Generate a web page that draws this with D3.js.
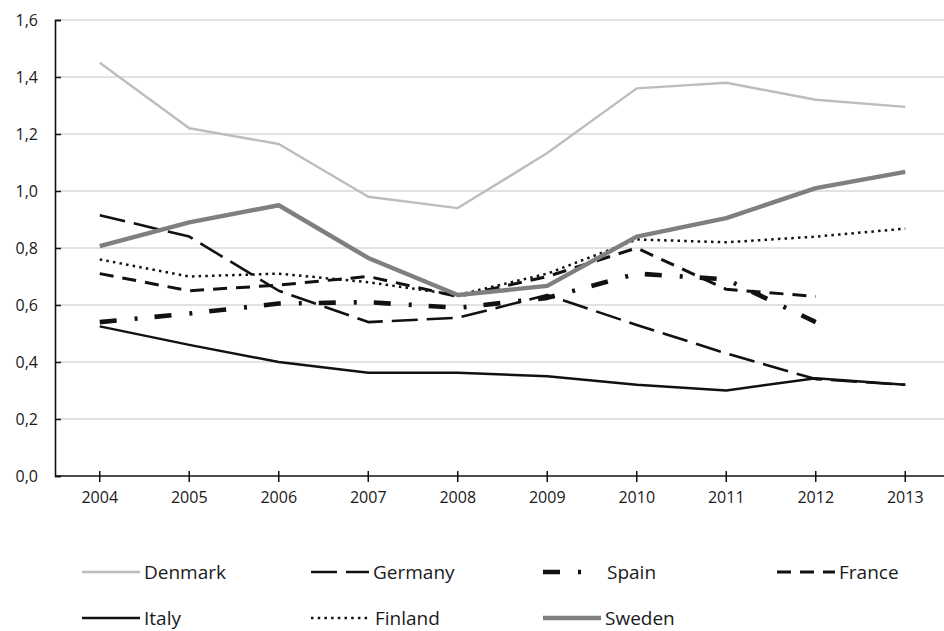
<!DOCTYPE html>
<html>
<head>
<meta charset="utf-8">
<script src="https://cdn.jsdelivr.net/npm/d3@7"></script>
<style>
  html, body { margin: 0; padding: 0; background: #fff; }
  svg { display: block; }
  text { font-family: "Open Sans", "DejaVu Sans", sans-serif; fill: #1a1a1a; }
</style>
</head>
<body>
<svg id="chart" width="944" height="631"></svg>
<script>
// Years on the horizontal axis
const years = ["2004", "2005", "2006", "2007", "2008", "2009", "2010", "2011", "2012", "2013"];

// Vertical axis tick values and their labels (decimal comma)
const yTicks = [0, 0.2, 0.4, 0.6, 0.8, 1.0, 1.2, 1.4, 1.6];
const yTickLabels = ["0,0", "0,2", "0,4", "0,6", "0,8", "1,0", "1,2", "1,4", "1,6"];

// Series values per country (null = no value)
const denmark = [1.45, 1.22, 1.165, 0.98, 0.94, 1.133, 1.36, 1.38, 1.32, 1.295];
const germany = [0.915, 0.84, 0.65, 0.54, 0.555, 0.635, 0.53, 0.43, 0.34, 0.32];
const spain   = [0.54, 0.57, 0.605, 0.61, 0.59, 0.625, 0.71, 0.69, 0.54, null];
const france  = [0.71, 0.65, 0.67, 0.70, 0.63, 0.70, 0.80, 0.655, 0.63, null];
const italy   = [0.525, 0.46, 0.40, 0.362, 0.362, 0.35, 0.32, 0.30, 0.343, 0.32];
const finland = [0.76, 0.70, 0.71, 0.68, 0.635, 0.71, 0.83, 0.82, 0.84, 0.868];
const sweden  = [0.807, 0.89, 0.95, 0.765, 0.635, 0.667, 0.84, 0.905, 1.01, 1.067];

const countryNames = ["Denmark", "Germany", "Spain", "France", "Italy", "Finland", "Sweden"];
const countryValues = [denmark, germany, spain, france, italy, finland, sweden];

// Stroke styles per country
const styles = {
  Denmark: { color: "#bdbdbd", width: 2.4, dash: null },
  Germany: { color: "#111", width: 2.6, dash: "26,9" },
  Spain:   { color: "#111", width: 4.6, dash: "17,18,3,17" },
  France:  { color: "#111", width: 3, dash: "14,9" },
  Italy:   { color: "#111", width: 2.5, dash: null },
  Finland: { color: "#111", width: 2.5, dash: "2.5,4.2" },
  Sweden:  { color: "#7f7f7f", width: 4.4, dash: null }
};

const plot = { left: 55, right: 944, top: 20, bottom: 476 };

const svg = d3.select("#chart");

const x = d3.scaleBand().domain(years).range([plot.left, 950]);
const xc = d => x(d) + x.bandwidth() / 2;
const y = d3.scaleLinear().domain([0, 1.6]).range([plot.bottom, plot.top]);

// Horizontal gridlines
svg.append("g")
  .selectAll("line")
  .data(yTicks.filter(t => t > 0))
  .join("line")
  .attr("x1", plot.left).attr("x2", plot.right)
  .attr("y1", d => y(d)).attr("y2", d => y(d))
  .attr("stroke", "#d9d9d9").attr("stroke-width", 1.5);

// Y axis
const yAxis = svg.append("g")
  .attr("transform", `translate(${plot.left},0)`)
  .call(d3.axisRight(y).tickValues(yTicks).tickSize(6)
    .tickFormat((d, i) => yTickLabels[i]));
yAxis.select(".domain").attr("stroke", "#111").attr("stroke-width", 1.6);
yAxis.selectAll(".tick line").attr("stroke", "#111").attr("stroke-width", 1.5);
yAxis.selectAll(".tick text")
  .attr("x", -17).attr("text-anchor", "end").attr("dy", "0.35em")
  .style("font-size", "16px");

// X axis
const xAxis = svg.append("g")
  .attr("transform", `translate(0,${plot.bottom})`)
  .call(d3.axisBottom(x).tickSize(6).tickSizeOuter(0));
xAxis.select(".domain").attr("stroke", "#111").attr("stroke-width", 1.6)
  .attr("d", `M${plot.left},0H${plot.right}`);
xAxis.selectAll(".tick line").attr("stroke", "#111").attr("stroke-width", 1.5).attr("y1", -5);
xAxis.selectAll(".tick text").attr("y", 16).style("font-size", "16px");

// Series lines
const line = d3.line()
  .defined(d => d.v !== null)
  .x(d => xc(d.year))
  .y(d => y(d.v));

const order = ["Denmark", "Italy", "Germany", "France", "Spain", "Finland", "Sweden"];
order.forEach(name => {
  const vals = countryValues[countryNames.indexOf(name)];
  const st = styles[name];
  const pts = years.map((yr, i) => ({ year: yr, v: vals[i] }));
  svg.append("path")
    .datum(pts)
    .attr("d", line)
    .attr("fill", "none")
    .attr("stroke", st.color)
    .attr("stroke-width", st.width)
    .attr("stroke-dasharray", st.dash)
    .attr("stroke-linejoin", "round");
});

// Legend
const legendCols = [82, 311, 543, 777];
const legendRows = [572, 618];
const legend = svg.append("g");
countryNames.forEach((name, i) => {
  const cx = legendCols[i % 4];
  const cy = legendRows[Math.floor(i / 4)];
  const st = styles[name];
  legend.append("line")
    .attr("x1", cx).attr("x2", cx + (name === "Spain" ? 39 : 58))
    .attr("y1", cy).attr("y2", cy)
    .attr("stroke", st.color)
    .attr("stroke-width", st.width)
    .attr("stroke-dasharray", st.dash);
  legend.append("text")
    .attr("x", name === "Spain" || name === "Finland" ? cx + 64 : cx + 62)
    .attr("y", cy)
    .attr("dy", "0.35em")
    .style("font-size", "19px")
    .text(name);
});
</script>
</body>
</html>
